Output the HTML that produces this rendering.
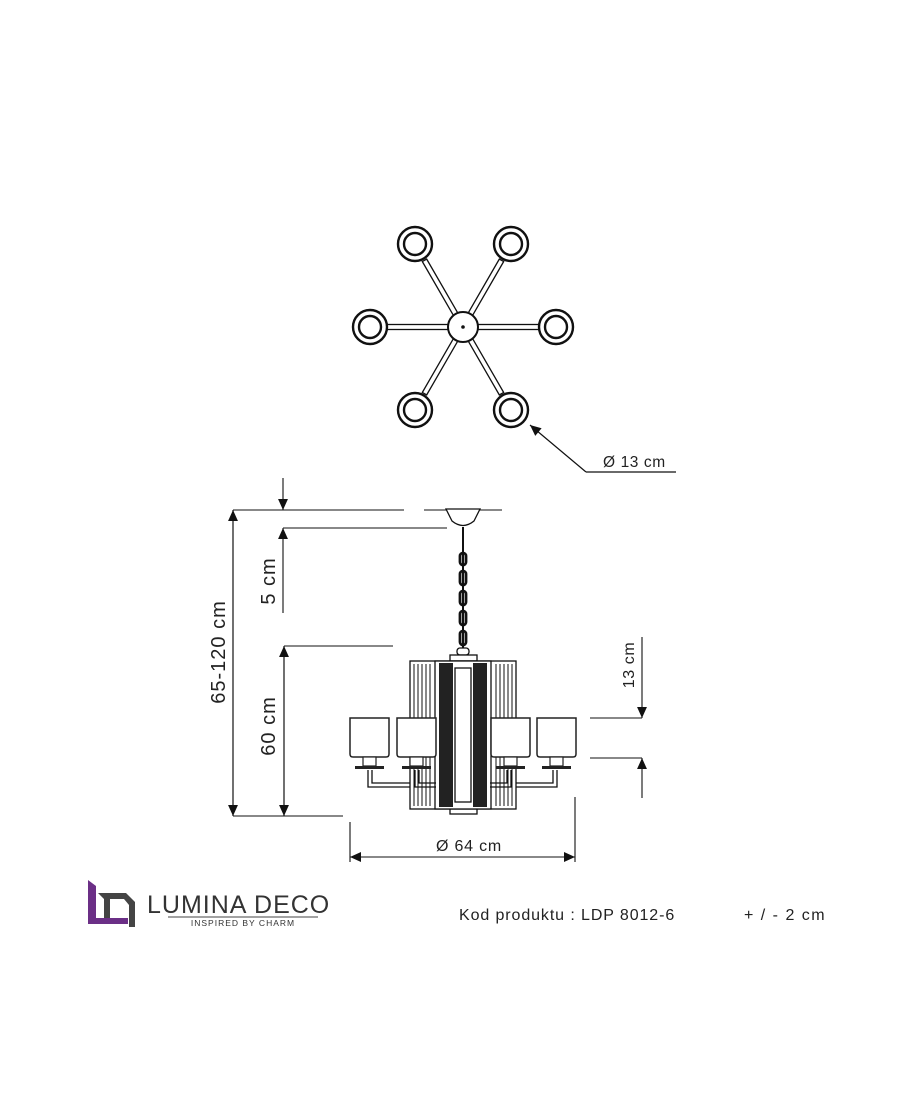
<!DOCTYPE html>
<html><head><meta charset="utf-8"><style>
html,body{margin:0;padding:0;background:#fff;}
svg{display:block;font-family:"Liberation Sans",sans-serif;}
</style></head><body>
<svg width="915" height="1109" viewBox="0 0 915 1109" xmlns="http://www.w3.org/2000/svg">
<defs>
<marker id="a" viewBox="0 0 10 10" refX="10" refY="5" markerWidth="16" markerHeight="11" markerUnits="userSpaceOnUse" orient="auto"><path d="M0,0.5 L10,5 L0,9.5 z" fill="#111"/></marker>
<g id="ring"><circle r="17" fill="#fff" stroke="#111" stroke-width="2.4"/><circle r="11" fill="#fff" stroke="#111" stroke-width="2.4"/></g>
<g id="shade"><path d="M0,0 H39 V36 Q39,39 36,39 H3 Q0,39 0,36 Z" fill="#fff" stroke="#222" stroke-width="1.5"/><rect x="13" y="39" width="13" height="9" fill="#fff" stroke="#222" stroke-width="1.2"/><rect x="5" y="48" width="29" height="3" fill="#222"/></g>
</defs>
<g stroke="#111" stroke-width="1.3" fill="#fff">
<g id="arm"><rect x="478" y="324.5" width="62" height="5"/></g>
<use href="#arm" transform="rotate(60 463 327)"/><use href="#arm" transform="rotate(120 463 327)"/><use href="#arm" transform="rotate(180 463 327)"/><use href="#arm" transform="rotate(240 463 327)"/><use href="#arm" transform="rotate(300 463 327)"/>
<circle cx="463" cy="327" r="15" stroke-width="2"/>
</g>
<circle cx="463" cy="327" r="1.8" fill="#111"/>
<use href="#ring" x="415" y="244"/><use href="#ring" x="511" y="244"/><use href="#ring" x="370" y="327"/><use href="#ring" x="556" y="327"/><use href="#ring" x="415" y="410"/><use href="#ring" x="511" y="410"/>
<line x1="586" y1="472" x2="530" y2="425" stroke="#111" stroke-width="1.2" marker-end="url(#a)"/>
<line x1="586" y1="472" x2="676" y2="472" stroke="#111" stroke-width="1.2"/>
<text x="603" y="467" font-size="15.5" fill="#222" letter-spacing="0.6">Ø 13 cm</text>

<g stroke="#111" stroke-width="1.1" fill="none">
<line x1="233" y1="510" x2="404" y2="510"/><line x1="424" y1="510" x2="502" y2="510"/>
<line x1="283" y1="528" x2="447" y2="528"/>
<line x1="284" y1="646" x2="393" y2="646"/>
<line x1="233" y1="816" x2="343" y2="816"/>
<line x1="233" y1="816" x2="233" y2="510" marker-end="url(#a)"/><line x1="233" y1="510" x2="233" y2="816" marker-end="url(#a)"/>
<line x1="283" y1="478" x2="283" y2="510" marker-end="url(#a)"/>
<line x1="283" y1="613" x2="283" y2="528" marker-end="url(#a)"/>
<line x1="284" y1="816" x2="284" y2="646" marker-end="url(#a)"/><line x1="284" y1="646" x2="284" y2="816" marker-end="url(#a)"/>
<line x1="590" y1="718" x2="642" y2="718"/><line x1="590" y1="758" x2="642" y2="758"/>
<line x1="642" y1="637" x2="642" y2="718" marker-end="url(#a)"/>
<line x1="642" y1="798" x2="642" y2="758" marker-end="url(#a)"/>
<line x1="350" y1="822" x2="350" y2="862"/><line x1="575" y1="797" x2="575" y2="862"/>
<line x1="350" y1="857" x2="575" y2="857" marker-end="url(#a)"/><line x1="575" y1="857" x2="350" y2="857" marker-end="url(#a)"/>
</g>
<g font-size="20" fill="#222" letter-spacing="1">
<text transform="translate(225,652) rotate(-90)" text-anchor="middle">65-120 cm</text>
<text transform="translate(275,581) rotate(-90)" text-anchor="middle">5 cm</text>
<text transform="translate(275,726) rotate(-90)" text-anchor="middle">60 cm</text>
</g>
<text transform="translate(634,665) rotate(-90)" text-anchor="middle" font-size="16" fill="#222" letter-spacing="0.6">13 cm</text>
<text x="469" y="851" text-anchor="middle" font-size="16" fill="#222" letter-spacing="0.8">Ø 64 cm</text>

<g stroke="#111" stroke-width="1.3" fill="#fff">
<path d="M446,509 H480 L474,521 Q463,530 452,521 Z"/>
<line x1="463" y1="527" x2="463" y2="650" stroke-width="2"/>
<g fill="none" stroke-width="2.8"><rect x="460" y="553" width="6" height="12" rx="3"/><rect x="460" y="571" width="6" height="14" rx="3"/><rect x="460" y="591" width="6" height="14" rx="3"/><rect x="460" y="611" width="6" height="14" rx="3"/><rect x="460" y="631" width="6" height="14" rx="3"/></g>
<rect x="457" y="648" width="12" height="7" rx="3"/>
<rect x="450" y="655" width="27" height="6"/>
<rect x="450" y="808" width="27" height="6"/>
<rect x="410" y="661" width="106" height="148"/>
<g stroke-width="1"><line x1="414" y1="664" x2="414" y2="806"/><line x1="418" y1="664" x2="418" y2="806"/><line x1="422" y1="664" x2="422" y2="806"/><line x1="426" y1="664" x2="426" y2="806"/><line x1="430" y1="664" x2="430" y2="806"/><line x1="496" y1="664" x2="496" y2="806"/><line x1="500" y1="664" x2="500" y2="806"/><line x1="504" y1="664" x2="504" y2="806"/><line x1="508" y1="664" x2="508" y2="806"/><line x1="512" y1="664" x2="512" y2="806"/></g>
<rect x="435" y="661" width="56" height="148"/>
<rect x="455" y="668" width="16" height="134"/>
</g>
<rect x="439" y="663" width="14" height="144" fill="#222"/>
<rect x="473" y="663" width="14" height="144" fill="#222"/>
<rect x="456" y="672" width="14" height="126" fill="#fff"/>
<g stroke="#111" stroke-width="1.3" fill="none">
<path d="M368,770 V787 H410"/><path d="M372,770 V783 H410"/>
<path d="M415,770 V787 H436"/><path d="M419,770 V783 H436"/>
<path d="M511,770 V787 H490"/><path d="M507,770 V783 H490"/>
<path d="M557,770 V787 H516"/><path d="M553,770 V783 H516"/>
</g>
<use href="#shade" x="350" y="718"/><use href="#shade" x="397" y="718"/><use href="#shade" x="491" y="718"/><use href="#shade" x="537" y="718"/>

<path d="M88,880 L96,886 V918 H128 V924 H88 Z" fill="#6b2f86"/>
<path d="M98,893 H126 L135,902 V927 H129 V905 L124,899 H110 V918 H104 V899 Z" fill="#444"/>
<text x="147" y="913" font-size="25" fill="#333" letter-spacing="1">LUMINA DECO</text>
<line x1="168" y1="917" x2="318" y2="917" stroke="#444" stroke-width="1"/>
<text x="243" y="926" font-size="8.5" fill="#333" text-anchor="middle" letter-spacing="1">INSPIRED BY CHARM</text>
<text x="459" y="920" font-size="16" fill="#222" letter-spacing="0.9">Kod produktu : LDP 8012-6</text>
<text x="744" y="920" font-size="16" fill="#222" letter-spacing="1.5">+ / - 2 cm</text>
</svg>
</body></html>
